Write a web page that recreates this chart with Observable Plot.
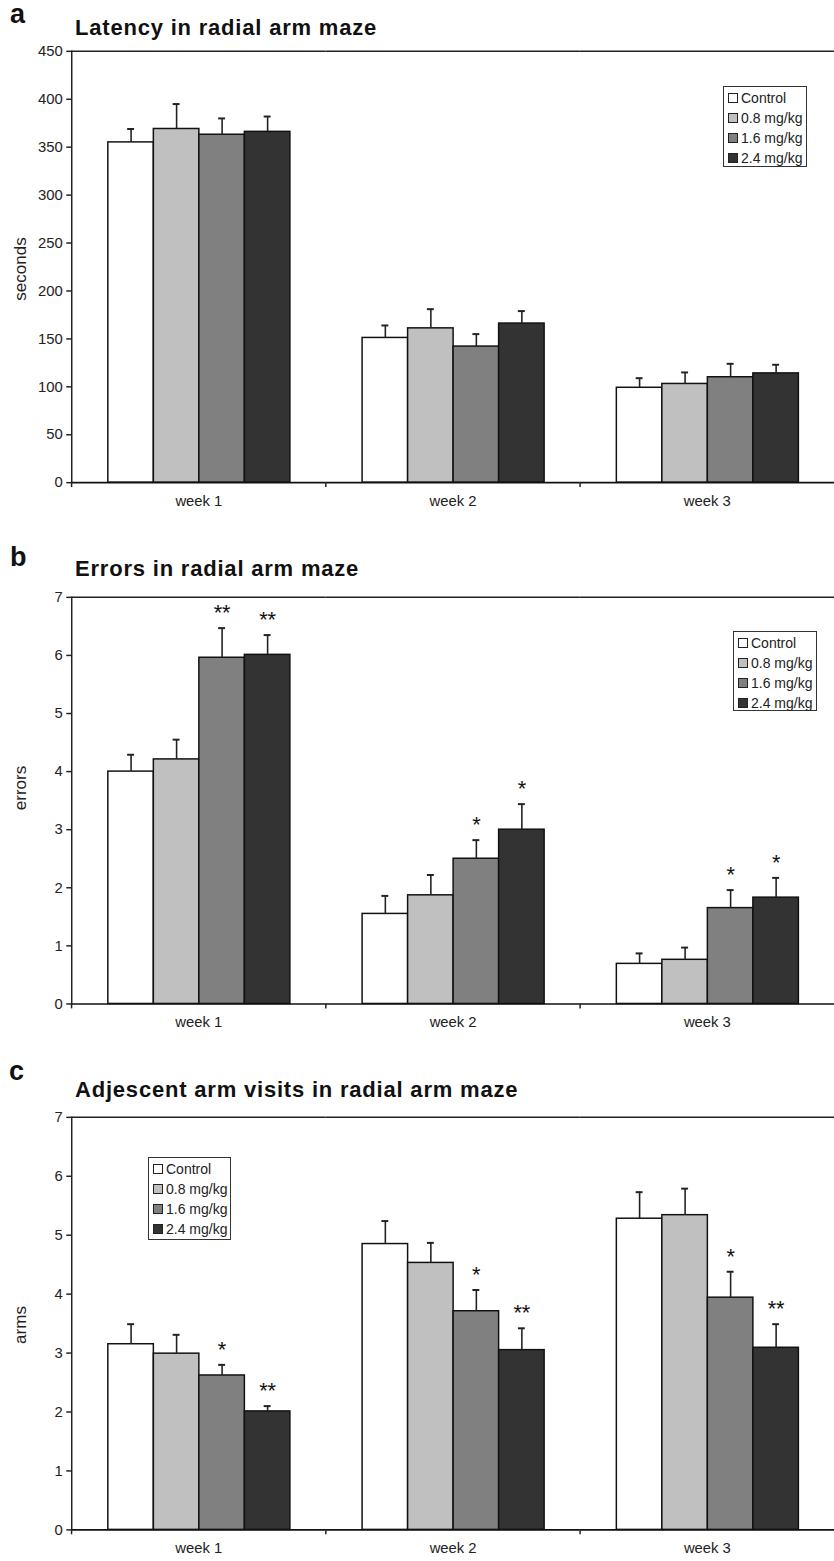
<!DOCTYPE html>
<html>
<head>
<meta charset="utf-8">
<script src="https://cdn.jsdelivr.net/npm/d3@7"></script>
<script src="https://cdn.jsdelivr.net/npm/@observablehq/plot@0.6"></script>
<style>
  body { margin: 0; background: #fff; }
  #page { position: relative; width: 834px; height: 1561px; overflow: hidden; background: #fff;
          font-family: "Liberation Sans", Arial, Helvetica, sans-serif; color: #111; }
  .abs { position: absolute; white-space: nowrap; line-height: 1; }
  .letter { font-size: 27px; font-weight: bold; }
  .title { font-size: 22px; font-weight: bold; letter-spacing: 0.8px; }
  .ylab { font-size: 17px; color: #222; transform: translate(-50%, -50%) rotate(-90deg); }
  .legend { position: absolute; border: 1.5px solid #333; background: #fff; box-sizing: border-box;
            padding: 1px 0 0 4px; font-size: 14px; color: #222; }
  .legend .row { height: 20px; display: flex; align-items: center; }
  .legend .sw { width: 8px; height: 8px; border: 1px solid #222; margin-right: 3px; flex: none; }
  .panel { position: absolute; left: 0; }
</style>
</head>
<body>
<div id="page"></div>
<script>
// ---- data ----
const weeks = ["week 1", "week 2", "week 3"];
const doses = ["Control", "0.8 mg/kg", "1.6 mg/kg", "2.4 mg/kg"];
const doseColors = ["#ffffff", "#c0c0c0", "#808080", "#333333"];

// Latency (seconds): mean and top of error bar, per week, per dose
const latencyMean  = [[355, 369, 363, 366], [151, 161, 142, 166], [99, 103, 110, 114]];
const latencyUpper = [[369, 395, 380, 382], [164, 181, 155, 179], [109, 115, 124, 123]];
const latencyTicks = [0, 50, 100, 150, 200, 250, 300, 350, 400, 450];

// Errors
const errorsMean  = [[4.00, 4.21, 5.96, 6.01], [1.55, 1.87, 2.50, 3.00], [0.69, 0.76, 1.65, 1.83]];
const errorsUpper = [[4.29, 4.55, 6.47, 6.35], [1.86, 2.22, 2.82, 3.44], [0.87, 0.97, 1.96, 2.17]];
const errorsSig   = [["", "", "**", "**"], ["", "", "*", "*"], ["", "", "*", "*"]];

// Adjacent arm visits
const armsMean  = [[3.15, 2.99, 2.62, 2.01], [4.85, 4.53, 3.71, 3.05], [5.28, 5.34, 3.94, 3.09]];
const armsUpper = [[3.49, 3.31, 2.80, 2.10], [5.24, 4.87, 4.07, 3.42], [5.73, 5.79, 4.38, 3.49]];
const armsSig   = [["", "", "*", "**"], ["", "", "*", "**"], ["", "", "*", "**"]];
const countTicks = [0, 1, 2, 3, 4, 5, 6, 7];

// ---- layout ----
const page = document.getElementById("page");
const FONT = '"Liberation Sans", Arial, Helvetica, sans-serif';
const W = 843, ML = 71;
const plotW = W - ML;

function addText(cls, text, left, top) {
  const d = document.createElement("div");
  d.className = "abs " + cls;
  d.textContent = text;
  d.style.left = left + "px";
  d.style.top = top + "px";
  page.appendChild(d);
  return d;
}

function addLegend(left, top, w, h) {
  const box = document.createElement("div");
  box.className = "legend";
  Object.assign(box.style, {left: left + "px", top: top + "px", width: w + "px", height: h + "px"});
  doses.forEach((d, i) => {
    const row = document.createElement("div");
    row.className = "row";
    const sw = document.createElement("span");
    sw.className = "sw";
    sw.style.background = doseColors[i];
    const t = document.createElement("span");
    t.textContent = d;
    row.appendChild(sw); row.appendChild(t);
    box.appendChild(row);
  });
  page.appendChild(box);
}

function panel({top, height, marginTop, marginBottom, yMax, ticks, means, uppers, sig}) {
  const rows = [];
  weeks.forEach((w, i) => doses.forEach((d, j) => rows.push({
    week: w, dose: d, value: means[i][j], upper: uppers[i][j], sig: sig ? sig[i][j] : ""
  })));
  const chart = Plot.plot({
    width: W, height, marginLeft: ML, marginRight: 0, marginTop, marginBottom,
    style: {fontFamily: FONT, fontSize: "15px", color: "#222", background: "transparent", overflow: "visible"},
    fx: {domain: weeks, padding: 0, label: null},
    x: {domain: doses, paddingInner: 0, paddingOuter: 0.764, axis: null},
    y: {domain: [0, yMax], label: null},
    color: {domain: doses, range: doseColors},
    marks: [
      Plot.ruleY([yMax], {stroke: "#222", strokeWidth: 1.5}),
      Plot.barY(rows, {fx: "week", x: "dose", y: "value", fill: "dose", stroke: "#111", strokeWidth: 1.5}),
      Plot.ruleX(rows, {fx: "week", x: "dose", y1: "value", y2: "upper", stroke: "#222", strokeWidth: 1.6}),
      Plot.tickY(rows, {fx: "week", x: "dose", y: "upper", insetLeft: 19.5, insetRight: 19.5, stroke: "#222", strokeWidth: 2}),
      Plot.text(rows.filter(d => d.sig), {fx: "week", x: "dose", y: "upper", text: "sig", dy: -15, fontSize: 22, fill: "#111"}),
      Plot.ruleY([0], {stroke: "#111", strokeWidth: 1.6}),
      Plot.frame({anchor: "left", facetAnchor: "left", stroke: "#222", strokeWidth: 1.5}),
      Plot.axisY({ticks, tickSize: 5, tickPadding: 4, fontSize: 15, tickFormat: d => String(d), label: null, stroke: "#222", strokeWidth: 1.5}),
      Plot.axisFx({anchor: "bottom", tickSize: 5, tickFormat: () => "", dx: -plotW / 6, label: null, stroke: "#222", strokeWidth: 1.5}),
      Plot.axisFx({anchor: "bottom", tickSize: 0, tickPadding: 13, fontSize: 15, label: null})
    ]
  });
  const holder = document.createElement("div");
  holder.className = "panel";
  holder.style.top = top + "px";
  holder.appendChild(chart);
  page.appendChild(holder);
}

// Panel a
addText("letter", "a", 10, 1);
addText("title", "Latency in radial arm maze", 75, 16.5);
panel({top: 36, height: 486, marginTop: 15, marginBottom: 35, yMax: 450, ticks: latencyTicks,
       means: latencyMean, uppers: latencyUpper});
addText("ylab", "seconds", 20, 269);
addLegend(723, 86, 84, 81);

// Panel b
addText("letter", "b", 10, 544);
addText("title", "Errors in radial arm maze", 75, 558);
panel({top: 582, height: 461, marginTop: 15, marginBottom: 35, yMax: 7, ticks: countTicks,
       means: errorsMean, uppers: errorsUpper, sig: errorsSig});
addText("ylab", "errors", 20, 788);
addLegend(733, 631, 84, 80);

// Panel c
addText("letter", "c", 9, 1058);
addText("title", "Adjescent arm visits in radial arm maze", 75, 1078.5);
panel({top: 1102, height: 459, marginTop: 15, marginBottom: 27, yMax: 7, ticks: countTicks,
       means: armsMean, uppers: armsUpper, sig: armsSig});
addText("ylab", "arms", 20, 1325);
addLegend(148, 1157, 83, 83);
</script>
</body>
</html>
